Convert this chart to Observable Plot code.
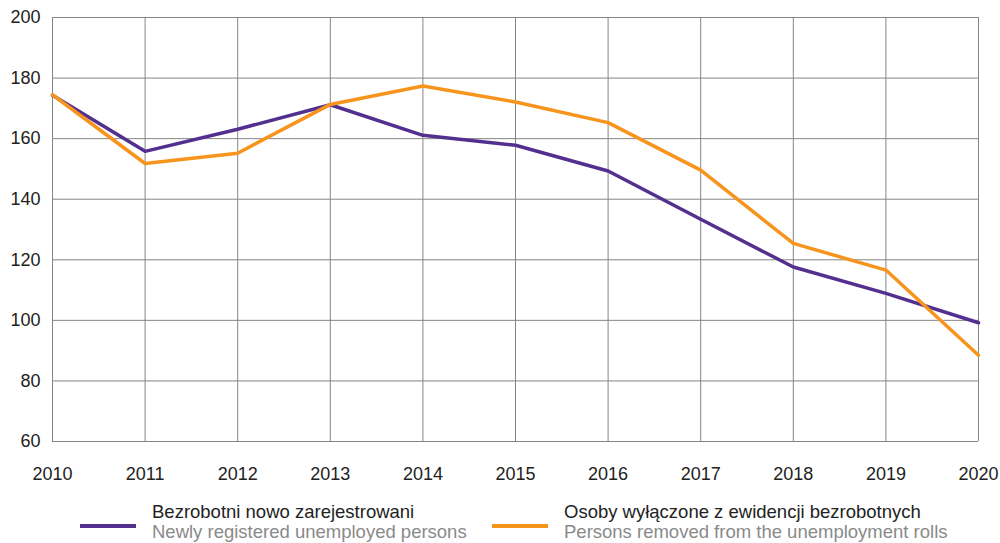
<!DOCTYPE html>
<html>
<head>
<meta charset="utf-8">
<script src="https://cdn.jsdelivr.net/npm/d3@7"></script>
<script src="https://cdn.jsdelivr.net/npm/@observablehq/plot@0.6"></script>
<style>
  html, body { margin: 0; padding: 0; background: #fff; }
  #wrap { position: relative; width: 1000px; height: 543px; font-family: "Liberation Sans", Arial, sans-serif; }
  .sw { position: absolute; height: 4px; }
  .lg { position: absolute; font-size: 18.5px; line-height: 20.7px; white-space: nowrap; }
  .lg .pl { color: #222; }
  .lg .en { color: #8a8a8a; }
</style>
</head>
<body>
<div id="wrap"></div>
<script>
const years = [2010, 2011, 2012, 2013, 2014, 2015, 2016, 2017, 2018, 2019, 2020];
const registered = [174.3, 155.8, 163.1, 171.2, 161.1, 157.8, 149.3, 133.4, 117.6, 108.9, 99.2];
const removed = [174.5, 151.8, 155.2, 171.3, 177.4, 172.1, 165.3, 149.6, 125.4, 116.6, 88.5];
const yTicks = [60, 80, 100, 120, 140, 160, 180, 200];
const seriesNames = [
  ["Bezrobotni nowo zarejestrowani", "Newly registered unemployed persons"],
  ["Osoby wyłączone z ewidencji bezrobotnych", "Persons removed from the unemployment rolls"]
];
const colors = ["#53308f", "#f7941d"];

const regData = years.map((y, i) => ({year: y, value: registered[i]}));
const remData = years.map((y, i) => ({year: y, value: removed[i]}));

const chart = Plot.plot({
  width: 1000,
  height: 490,
  marginTop: 17,
  marginBottom: 49,
  marginLeft: 52,
  marginRight: 22,
  style: {fontFamily: "'Liberation Sans', Arial, sans-serif", fontSize: "18px", color: "#222", background: "#fff"},
  x: {type: "linear", domain: [2010, 2020]},
  y: {domain: [60, 200]},
  marks: [
    Plot.gridX(years, {stroke: "#858585", strokeOpacity: 1, strokeWidth: 1}),
    Plot.gridY(yTicks, {stroke: "#858585", strokeOpacity: 1, strokeWidth: 1}),
    Plot.axisX(years, {tickSize: 0, tickPadding: 26, tickFormat: d => String(d), label: null, fill: "#222"}),
    Plot.axisY(yTicks, {tickSize: 0, tickPadding: 12, label: null, fill: "#222"}),
    Plot.line(regData, {x: "year", y: "value", stroke: colors[0], strokeWidth: 3.5}),
    Plot.line(remData, {x: "year", y: "value", stroke: colors[1], strokeWidth: 3.5})
  ]
});

const wrap = document.getElementById("wrap");
chart.style.position = "absolute";
chart.style.left = "0px";
chart.style.top = "0px";
wrap.appendChild(chart);

const legendPos = [
  {swLeft: 80, swWidth: 56, textLeft: 152},
  {swLeft: 492, swWidth: 56, textLeft: 564}
];
seriesNames.forEach((names, i) => {
  const sw = document.createElement("div");
  sw.className = "sw";
  sw.style.left = legendPos[i].swLeft + "px";
  sw.style.width = legendPos[i].swWidth + "px";
  sw.style.top = "524px";
  sw.style.background = colors[i];
  wrap.appendChild(sw);
  const lg = document.createElement("div");
  lg.className = "lg";
  lg.style.left = legendPos[i].textLeft + "px";
  lg.style.top = "501.5px";
  lg.innerHTML = `<div class="pl">${names[0]}</div><div class="en">${names[1]}</div>`;
  wrap.appendChild(lg);
});
</script>
</body>
</html>
